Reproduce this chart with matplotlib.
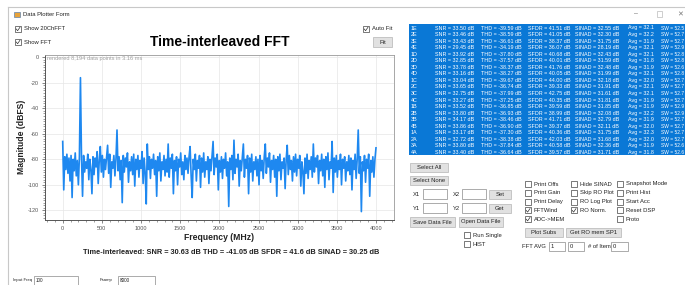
import matplotlib.pyplot as plt
import numpy as np
from matplotlib.patches import Rectangle
from matplotlib.ticker import MultipleLocator

plt.rcParams['font.family'] = ['Liberation Sans', 'DejaVu Sans']
plt.rcParams['axes.unicode_minus'] = False

# FFT magnitude in dBFS, bins evenly spaced from 0 to 4000 MHz
magnitude_db = [
    -66, -104, -78, -88, -76, -91, -79, -97, -77, -110, -80, -89, -75, -93, -81, -100, -78, -16, -79, -109,
    -77, -90, -82, -87, -76, -96, -80, -88, -107, -78, -92, -79, -86, -74, -99, -81, -70, -90, -77, -94,
    -80, -88, -78, -69, -91, -76, -102, -82, -87, -77, -93, -80, -57, -89, -78, -96, -81, -114, -77, -90,
    -79, -86, -75, -98, -82, -89, -78, -92, -76, -101, -80, -88, -77, -94, -81, -87, -74, -99, -79, -91,
    -115, -68, -88, -78, -95, -80, -87, -76, -92, -81, -109, -78, -89, -75, -97, -82, -88, -77, -93, -80,
    -90, -68, -94, -79, -87, -76, -107, -81, -89, -78, -100, -80, -86, -75, -92, -82, -96, -77, -88, -79,
    -91, -78, -70, -93, -110, -80, -88, -76, -97, -81, -87, -77, -102, -79, -90, -75, -94, -82, -88, -78,
    -99, -80, -89, -77, -66, -92, -79, -86, -76, -104, -81, -90, -78, -95, -80, -87, -75, -93, -82, -117,
    -79, -88, -77, -96, -65, -91, -80, -86, -76, -101, -81, -89, -78, -68, -94, -80, -87, -77, -107, -79,
    -90, -76, -97, -82, -88, -78, -93, -80, -100, -77, -89, -81, -95, -78, -68, -91, -79, -86, -75, -98,
    -81, -88, -77, -94, -80, -109, -78, -89, -76, -96, -82, -87, -79, -103, -80, -69, -92, -77, -88, -81,
    -97, -78, -90, -76, -93, -80, -87, -77, -101, -82, -89, -107, -79, -91, -76, -95, -81, -88, -78, -94,
    -68, -90, -79, -86, -77, -99, -81, -89, -76, -93, -80, -102, -78, -88, -75, -96, -82, -87, -66, -106,
    -79, -90, -77, -94, -81, -88, -76, -100, -80, -87, -78, -97, -82, -89, -77, -92, -79, -104, -81, -88,
    -76, -95, -80, -57, -91, -78, -121, -82, -89, -77, -98, -80, -87, -76, -109, -81, -90, -78, -94, -80,
    -71,
]
freq_mhz = np.linspace(0, 4000, len(magnitude_db))

x_ticks = [0, 500, 1000, 1500, 2000, 2500, 3000, 3500, 4000]
y_ticks = [-120, -100, -80, -60, -40, -20, 0]

# per-channel results in the list box
channels = ['1E', '2E', '3E', '4E', '1D', '2D', '3D', '4D', '1C', '2C',
            '3C', '4C', '1B', '2B', '3B', '4B', '1A', '2A', '3A', '4A']
snr = [33.50, 33.46, 33.43, 29.45, 33.92, 32.85, 33.78, 33.16, 33.04, 33.65,
       32.75, 33.27, 33.52, 33.80, 34.17, 33.86, 33.17, 32.72, 33.80, 33.40]
thd = [-39.59, -38.59, -36.61, -34.19, -37.80, -37.57, -38.37, -38.27, -39.67, -36.74,
       -37.99, -37.25, -36.85, -36.93, -38.46, -36.90, -37.30, -38.38, -37.84, -36.64]
sfdr = [41.51, 41.05, 38.37, 36.07, 40.68, 40.01, 41.76, 40.05, 44.00, 39.33,
        42.75, 40.35, 39.59, 38.99, 41.71, 39.37, 40.36, 42.03, 40.58, 39.57]
sinad = [32.55, 32.30, 31.75, 28.19, 32.43, 31.59, 32.48, 31.99, 32.18, 31.91,
         31.61, 31.81, 31.85, 32.08, 32.79, 32.11, 31.75, 31.68, 32.36, 31.71]
avg = [32.1, 32.2, 31.9, 32.1, 32.1, 31.8, 31.9, 32.1, 32.0, 32.1,
       32.1, 31.9, 31.9, 32.2, 31.9, 32.0, 32.3, 32.0, 31.9, 31.8]
sw = [52.5, 52.7, 52.7, 52.9, 52.8, 52.8, 52.6, 52.8, 52.7, 52.7,
      52.7, 52.7, 52.9, 52.9, 52.7, 52.7, 52.7, 52.7, 52.6, 52.6]

W, H = 685, 285
fig = plt.figure(figsize=(W / 100, H / 100), dpi=100)

# overlay in pixel coordinates for the form controls
gui = fig.add_axes([0, 0, 1, 1])
gui.set_xlim(0, W)
gui.set_ylim(H, 0)
gui.axis('off')

GUI_FS = 4.2


def button(x0, y0, x1, y1, label):
    gui.add_patch(Rectangle((x0, y0), x1 - x0, y1 - y0, fc='#e1e1e1', ec='#b5b5b5', lw=0.5))
    gui.text((x0 + x1) / 2, (y0 + y1) / 2, label, ha='center', va='center',
             fontsize=GUI_FS, color='#222222')


def textbox(x0, y0, x1, y1, value='', fs=GUI_FS):
    gui.add_patch(Rectangle((x0, y0), x1 - x0, y1 - y0, fc='white', ec='#8a8a8a', lw=0.5))
    gui.text(x0 + 2, (y0 + y1) / 2, value, va='center', fontsize=fs, color='#222222')


def checkbox(x, y, label, checked=False):
    gui.add_patch(Rectangle((x, y - 3), 6, 6, fc='white', ec='#444444', lw=0.5))
    if checked:
        gui.plot([x + 1.2, x + 2.6, x + 5], [y, y + 1.7, y - 1.8], color='#333333', lw=0.5)
    gui.text(x + 9, y, label, va='center', fontsize=GUI_FS, color='#222222')


# window frame and title bar
gui.plot([8, W], [7, 7], color='#c8c8c8', lw=0.8)
gui.plot([8, 8], [7, H], color='#c8c8c8', lw=0.8)
gui.add_patch(Rectangle((14, 12), 6, 5, fc='#e8a33a', ec='#3a6fb0', lw=0.4))
gui.text(23, 15, 'Data Plotter Form', va='center', fontsize=4.2, color='#222222')
gui.text(636, 14, '–', ha='center', va='center', fontsize=5, color='#777777')
gui.add_patch(Rectangle((657, 11), 5.5, 5.5, fc='none', ec='#bbbbbb', lw=0.5))
gui.text(680, 14, '✕', ha='center', va='center', fontsize=5, color='#777777',
         family='DejaVu Sans')

# plot header controls
checkbox(15, 29, 'Show 20ChFFT', True)
checkbox(15, 42, 'Show FFT', True)
checkbox(363, 29, 'Auto Fit', True)
button(373, 37, 392, 47, 'Fit')
gui.text(220, 42, 'Time-interleaved FFT', ha='center', va='center',
         fontsize=10, fontweight='bold', color='black')

# axis labels and stats line
gui.text(219, 237, 'Frequency (MHz)', ha='center', va='center',
         fontsize=6.2, fontweight='bold', color='#222222')
gui.text(22, 137, 'Magnitude (dBFS)', ha='center', va='center', rotation=90,
         fontsize=6.2, fontweight='bold', color='#222222')
gui.text(231, 252, 'Time-interleaved: SNR = 30.63 dB THD = -41.05 dB SFDR = 41.6 dB SINAD = 30.25 dB',
         ha='center', va='center', fontsize=5.3, fontweight='bold', color='#222222')

# bottom-left inputs
gui.text(13, 280, 'Input Freq', va='center', fontsize=3.1, color='#222222')
textbox(34, 276, 78, 286, '100', fs=3.3)
gui.text(100, 280, 'Fsamp', va='center', fontsize=3.1, color='#222222')
textbox(118, 276, 155, 286, '8000', fs=3.3)

# list box with per-channel metrics
gui.add_patch(Rectangle((409, 24), 290, 131, fc='#0a78d6', ec='none'))
for i, ch in enumerate(channels):
    y = 28 + i * 6.55
    cols = [(411, ch, 3.9),
            (435, f'SNR = {snr[i]:.2f} dB', 3.9),
            (481, f'THD = {thd[i]:.2f} dB', 3.9),
            (528, f'SFDR = {sfdr[i]:.2f} dB', 3.9),
            (575.5, f'SINAD = {sinad[i]:.2f} dB', 3.9),
            (628, f'Avg = {avg[i]:.1f}', 3.9),
            (661, f'SW = {sw[i]:.1f}', 3.5)]
    for x, s, fs in cols:
        gui.text(x, y, s, va='center', fontsize=fs, color='white')

# right-hand controls
button(410, 163, 448, 172, 'Select All')
button(410, 176, 448, 185, 'Select None')
gui.text(413, 194, 'X1', va='center', fontsize=GUI_FS, color='#222222')
textbox(423, 189, 447, 199)
gui.text(453, 194, 'X2', va='center', fontsize=GUI_FS, color='#222222')
textbox(462, 189, 486, 199)
button(489, 190, 511, 199, 'Set')
gui.text(413, 208, 'Y1', va='center', fontsize=GUI_FS, color='#222222')
textbox(423, 203, 447, 213)
gui.text(453, 208, 'Y2', va='center', fontsize=GUI_FS, color='#222222')
textbox(462, 203, 486, 213)
button(489, 204, 511, 213, 'Get')
button(410, 217, 455, 227, 'Save Data File')
button(459, 217, 503, 227, 'Open Data File')
checkbox(464, 235, 'Run Single')
checkbox(464, 244, 'HIST')

col1 = [('Print Offs', False), ('Print Gain', False), ('Print Delay', False),
        ('FFTWind', True), ('ADC->MEM', True)]
col2 = [('Hide SINAD', False), ('Skip RO Plot', False), ('RO Log Plot', False),
        ('RO Norm.', True)]
col3 = [('Snapshot Mode', False), ('Print Hist', False), ('Start Acc', False),
        ('Reset DSP', False), ('Proto', False)]
for x, col in [(525, col1), (571, col2), (617, col3)]:
    for j, (lab, chk) in enumerate(col):
        checkbox(x, 184 + j * 8.8, lab, chk)

button(525, 228, 563, 237, 'Plot Subs')
button(566, 228, 621, 237, 'Get RO mem SP1')
gui.text(522, 247, 'FFT AVG', va='center', fontsize=GUI_FS, color='#222222')
textbox(549, 242, 565, 251, '1')
textbox(568, 242, 584, 251, '0')
gui.text(588, 247, '# of Item', va='center', fontsize=GUI_FS, color='#222222')
textbox(611, 242, 628, 251, '0')

# the FFT chart itself
ax = fig.add_axes([45 / W, 1 - 220 / H, (394 - 45) / W, (220 - 55) / H])
ax.plot(freq_mhz, magnitude_db, color='#1e88f0', lw=1.2)
ax.set_xlim(-226, 4230)
ax.set_ylim(-127.6, 1.8)
ax.set_xticks(x_ticks)
ax.set_yticks(y_ticks)
ax.xaxis.set_minor_locator(MultipleLocator(100))
ax.yaxis.set_minor_locator(MultipleLocator(2))
ax.tick_params(which='major', direction='out', length=2.5, width=0.5,
               colors='#555555', labelsize=4, pad=2)
ax.tick_params(which='minor', direction='out', length=1.2, width=0.4, colors='#555555')
ax.grid(True, which='major', color='#e6e6e6', lw=0.5)
ax.set_axisbelow(True)
for side in ['left', 'bottom']:
    ax.spines[side].set_color('#555555')
    ax.spines[side].set_linewidth(0.7)
for side in ['top', 'right']:
    ax.spines[side].set_color('#999999')
    ax.spines[side].set_linewidth(0.6)
ax.text(0.005, 0.995, 'rendered 8,194 data points in 3.16 ms', transform=ax.transAxes,
        ha='left', va='top', fontsize=4.1, color='#a0a0a0')

fig.savefig('out.png', dpi=100)
